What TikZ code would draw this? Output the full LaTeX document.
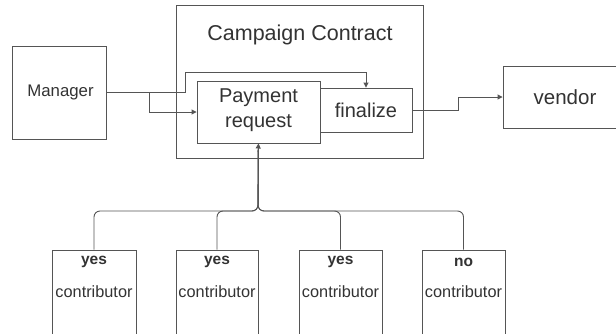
\documentclass[tikz,border=0pt]{standalone}
\usepackage{fontspec}
\setmainfont{Liberation Sans}
\usetikzlibrary{arrows.meta}
\definecolor{ln}{HTML}{555555}
\definecolor{tx}{HTML}{333333}
\tikzset{
  box/.style={draw=ln, line width=0.9pt, fill=white, inner sep=0pt},
  lbl/.style={text=tx, inner sep=0pt, align=center},
  conn/.style={draw=ln, line width=0.9pt},
  arr/.style={conn, -{Triangle[length=5pt,width=5pt]}},
}
\begin{document}
\begin{tikzpicture}[x=1pt,y=-1pt]
\clip (0,0) rectangle (616,333);
\fill[white] (0,0) rectangle (616,333);
% boxes
\node[box, minimum width=94, minimum height=93] (mgr) at (59,92.5) {};
\node[lbl, font=\fontsize{16.8}{19}\selectfont] (mgrt) at (60.5,92) {Manager};
\node[box, minimum width=247, minimum height=153] (cc) at (299.5,81.5) {};
\node[lbl, font=\fontsize{21.5}{24}\selectfont] (cct) at (300,35) {Campaign Contract};
\node[box, minimum width=92, minimum height=44] (fin) at (366,110) {};
\node[lbl, font=\fontsize{20}{23}\selectfont] (fint) at (366,110) {finalize};
\node[box, minimum width=123, minimum height=62] (pay) at (258.5,112) {};
\node[lbl, font=\fontsize{20}{25}\selectfont] (payt) at (258.5,110) {Payment\\request};
\node[box, minimum width=113, minimum height=62] (ven) at (559.5,97) {};
\node[lbl, font=\fontsize{20.5}{23}\selectfont] (vent) at (565,97) {vendor};
% contributors
\foreach \n/\x/\w/\v in {c1/94/84/yes, c2/217/82/yes, c3/340.5/83/yes, c4/463.5/83/no}{
  \node[box, minimum width=\w, minimum height=95] (\n) at (\x,297.5) {};
  \node[lbl, font=\fontsize{15.5}{18}\selectfont\bfseries] (\n v) at (\x,262) {\v};
  \node[lbl, font=\fontsize{16.3}{18}\selectfont] (\n t) at (\x,292) {contributor};
}
% connectors
\draw[arr] (mgr.east) -- (149,92.5) |- (pay.west);
\draw[arr] (mgr.east) -- (185,92.5) |- (fin.north |- 0,72) -- (fin.north);
\draw[arr] (fin.east) -- (458,110) |- (ven.west);
\draw[conn, rounded corners=6pt] (c1.north) -- (c1.north |- 0,211) -- (258,211) -- (pay.south);
\draw[conn, rounded corners=6pt] (c2.north) -- (c2.north |- 0,211) -- (258,211) -- (pay.south);
\draw[conn, rounded corners=6pt] (c3.north) -- (c3.north |- 0,211) -- (258,211) -- (pay.south);
\draw[conn, rounded corners=6pt] (c4.north) -- (c4.north |- 0,211) -- (258,211) -- (258,150);
\draw[arr] (258,152) -- (pay.south);
\end{tikzpicture}
\end{document}
